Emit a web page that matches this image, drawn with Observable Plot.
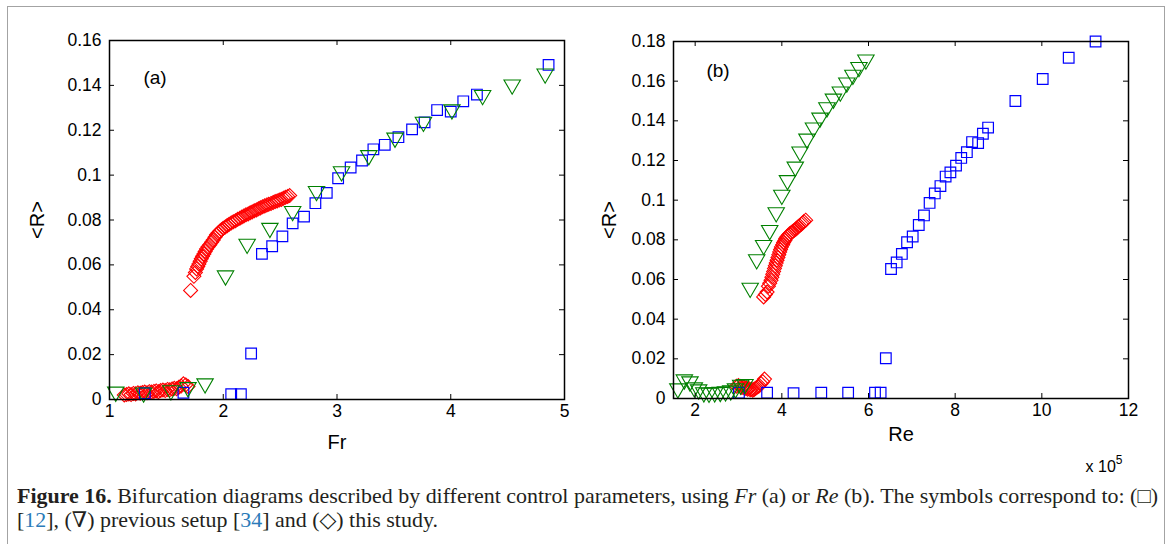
<!DOCTYPE html>
<html>
<head>
<meta charset="utf-8">
<script src="https://cdn.jsdelivr.net/npm/d3@7"></script>
<script src="https://cdn.jsdelivr.net/npm/@observablehq/plot@0.6"></script>
<style>
  html, body { margin: 0; padding: 0; background: #fff; }
  body { width: 1171px; height: 544px; position: relative; overflow: hidden; }
  .lbl { position: absolute; font-family: "Liberation Sans", Arial, sans-serif; color: #000; white-space: nowrap; transform: translate(-50%, -50%); }
  #cap { position: absolute; left: 17px; top: 484px; font-family: "Liberation Serif", "DejaVu Serif", serif; font-size: 21.5px; line-height: 24px; color: #231f20; white-space: nowrap; transform-origin: 0 0; }
  #cap .ref { color: #2b7bb9; }
  #cap .ln { display: inline-block; }
</style>
</head>
<body>
<div style="position:absolute; left:7px; top:6px; width:1156px; height:600px; border:1.5px solid #a3a3a3;"></div>
<div id="pa" style="position:absolute; left:0; top:0;"></div>
<div id="pb" style="position:absolute; left:585px; top:0;"></div>

<div class="lbl" style="left:337px; top:442px; font-size:20px;">Fr</div>
<div class="lbl" style="left:37px; top:220px; font-size:20px; transform: translate(-50%, -50%) rotate(-90deg);">&lt;R&gt;</div>
<div class="lbl" style="left:155px; top:78px; font-size:19px;">(a)</div>

<div class="lbl" style="left:901px; top:434px; font-size:20px;">Re</div>
<div class="lbl" style="left:609px; top:220px; font-size:20px; transform: translate(-50%, -50%) rotate(-90deg);">&lt;R&gt;</div>
<div class="lbl" style="left:718px; top:71px; font-size:19px;">(b)</div>
<div class="lbl" style="left:1104px; top:467px; font-size:16px;">x 10<span style="font-size:12px; position:relative; top:-8px;">5</span></div>

<div id="cap">
  <div class="ln" id="ln1"><b>Figure 16.</b> Bifurcation diagrams described by different control parameters, using <i>Fr</i> (a) or <i>Re</i> (b). The symbols correspond to: (□)</div><br>
  <div class="ln">[<span class="ref">12</span>], (∇) previous setup [<span class="ref">34</span>] and (◇) this study.</div>
</div>

<script>
// ---------- Panel (a): <R> versus Fr ----------
const aSquareFr = [1.31, 1.65, 2.07, 2.155, 2.245, 2.34, 2.43, 2.52, 2.61, 2.71, 2.81, 2.91, 3.01, 3.12, 3.22, 3.32, 3.42, 3.54, 3.66, 3.77, 3.88, 4.00, 4.11, 4.23, 4.86];
const aSquareR  = [0.0028, 0.0030, 0.0024, 0.0024, 0.0205, 0.0649, 0.0683, 0.0727, 0.0785, 0.0815, 0.0875, 0.0921, 0.0986, 0.1034, 0.1065, 0.1115, 0.1135, 0.1169, 0.1204, 0.1235, 0.1290, 0.1283, 0.1329, 0.1359, 0.1491];

const aTriFr = [1.055, 1.30, 1.54, 1.69, 1.84, 2.02, 2.21, 2.41, 2.61, 2.82, 3.04, 3.28, 3.51, 3.76, 4.01, 4.28, 4.54, 4.83];
const aTriR  = [0.0034, 0.0030, 0.0040, 0.0054, 0.0071, 0.0552, 0.0693, 0.0764, 0.0839, 0.0928, 0.1016, 0.1088, 0.1166, 0.1237, 0.1292, 0.1356, 0.1403, 0.1452];

const aDiaFr = [1.13, 1.15, 1.17, 1.19, 1.21, 1.23, 1.25, 1.27, 1.29, 1.31, 1.33, 1.35, 1.37, 1.39, 1.41, 1.43, 1.45, 1.47, 1.49, 1.51, 1.53, 1.55, 1.57, 1.59, 1.61, 1.63, 1.65, 1.67, 1.69,
                1.713, 1.742, 1.755, 1.766, 1.776, 1.786, 1.797, 1.807, 1.818, 1.830, 1.841, 1.853, 1.867, 1.882, 1.897, 1.912, 1.927, 1.941, 1.955, 1.970, 1.985, 2.000, 2.018, 2.035, 2.052, 2.070, 2.089, 2.108, 2.127, 2.146, 2.164, 2.181, 2.200, 2.219, 2.237, 2.254, 2.273, 2.292, 2.310, 2.327, 2.346, 2.365, 2.383, 2.400, 2.420, 2.439, 2.457, 2.474, 2.493, 2.511, 2.529, 2.547, 2.566, 2.584];
const aDiaR  = [0.0020, 0.0022, 0.0025, 0.0022, 0.0027, 0.0025, 0.0030, 0.0028, 0.0031, 0.0033, 0.0030, 0.0035, 0.0033, 0.0036, 0.0038, 0.0035, 0.0040, 0.0042, 0.0040, 0.0045, 0.0043, 0.0047, 0.0050, 0.0048, 0.0055, 0.0060, 0.0070, 0.0065, 0.0058,
                0.0486, 0.0549, 0.0566, 0.0582, 0.0593, 0.0604, 0.0616, 0.0627, 0.0638, 0.0649, 0.0660, 0.0671, 0.0681, 0.0690, 0.0701, 0.0711, 0.0723, 0.0734, 0.0742, 0.0750, 0.0757, 0.0763, 0.0769, 0.0775, 0.0781, 0.0787, 0.0792, 0.0797, 0.0803, 0.0808, 0.0813, 0.0818, 0.0823, 0.0827, 0.0832, 0.0836, 0.0841, 0.0845, 0.0850, 0.0854, 0.0859, 0.0863, 0.0867, 0.0870, 0.0874, 0.0878, 0.0882, 0.0885, 0.0889, 0.0892, 0.0897, 0.0901, 0.0905, 0.0909];

const aXTicks = [1, 2, 3, 4, 5];
const aYTicks = [0, 0.02, 0.04, 0.06, 0.08, 0.1, 0.12, 0.14, 0.16];

// ---------- Panel (b): <R> versus Re (x 10^5) ----------
const bSquareRe = [3.01, 3.66, 4.27, 4.91, 5.53, 6.15, 6.28, 6.40, 6.52, 6.65, 6.77, 6.89, 7.02, 7.16, 7.28, 7.41, 7.53, 7.66, 7.78, 7.89, 8.02, 8.14, 8.27, 8.39, 8.53, 8.64, 8.76, 9.39, 10.02, 10.62, 11.24];
const bSquareR  = [0.0029, 0.0029, 0.0027, 0.0029, 0.0029, 0.0029, 0.0029, 0.0203, 0.0653, 0.0686, 0.0729, 0.0788, 0.0817, 0.0875, 0.0923, 0.0986, 0.1034, 0.1071, 0.1119, 0.1140, 0.1174, 0.1213, 0.1242, 0.1293, 0.1288, 0.1335, 0.1366, 0.1500, 0.1611, 0.1718, 0.1800];

const bTriRe = [1.60, 1.75, 1.88, 1.98, 2.08, 2.20, 2.32, 2.45, 2.58, 2.70, 2.82, 2.93, 3.05, 3.15,
                3.27, 3.42, 3.58, 3.72, 3.87, 4.00, 4.13, 4.31, 4.42, 4.58, 4.73, 4.88, 5.04, 5.19, 5.35, 5.50, 5.64, 5.78, 5.94];
const bTriR  = [0.0050, 0.0095, 0.0085, 0.0055, 0.0045, 0.0030, 0.0028, 0.0030, 0.0032, 0.0035, 0.0040, 0.0050, 0.0068, 0.0072,
                0.0557, 0.0701, 0.0773, 0.0848, 0.0938, 0.1026, 0.1100, 0.1168, 0.1244, 0.1309, 0.1365, 0.1415, 0.1467, 0.1511, 0.1547, 0.1592, 0.1631, 0.1670, 0.1708];

const bDiaRe = [2.95, 3.00, 3.05, 3.08, 3.12, 3.15, 3.18, 3.21, 3.24, 3.27, 3.30, 3.33, 3.36, 3.39, 3.42, 3.45, 3.48, 3.52, 3.56, 3.60,
                3.58, 3.62, 3.66, 3.69, 3.72, 3.75, 3.77, 3.79, 3.81, 3.83, 3.85, 3.87, 3.89, 3.91, 3.93, 3.95, 3.97, 3.99, 4.02, 4.04, 4.07, 4.09, 4.12, 4.15, 4.18, 4.22, 4.25, 4.29, 4.32, 4.35, 4.38, 4.41, 4.45, 4.48, 4.51, 4.55];
const bDiaR  = [0.0062, 0.0065, 0.0060, 0.0055, 0.0058, 0.0050, 0.0053, 0.0047, 0.0050, 0.0044, 0.0047, 0.0042, 0.0046, 0.0050, 0.0055, 0.0060, 0.0065, 0.0075, 0.0085, 0.0098,
                0.0512, 0.0525, 0.0537, 0.0566, 0.0581, 0.0596, 0.0611, 0.0626, 0.0640, 0.0655, 0.0669, 0.0683, 0.0697, 0.0711, 0.0725, 0.0739, 0.0751, 0.0764, 0.0775, 0.0786, 0.0797, 0.0807, 0.0815, 0.0823, 0.0830, 0.0837, 0.0842, 0.0848, 0.0854, 0.0860, 0.0866, 0.0872, 0.0879, 0.0885, 0.0892, 0.0899];

const bXTicks = [2, 4, 6, 8, 10, 12];
const bYTicks = [0, 0.02, 0.04, 0.06, 0.08, 0.1, 0.12, 0.14, 0.16, 0.18];

// ---------- helpers ----------
const rows = (xs, ys) => xs.map((x, i) => ({x, y: ys[i]}));
const fmt = d => String(+d.toFixed(2));
const triangleDown = {
  draw(context, size) {
    const y = Math.sqrt(size / (3 * Math.sqrt(3)));
    context.moveTo(0, 2 * y);
    context.lineTo(-Math.sqrt(3) * y, -y);
    context.lineTo(Math.sqrt(3) * y, -y);
    context.closePath();
  }
};

function panel({w, h, ml, mr, mt, mb, xDom, yDom, xTicks, yTicks, sq, tri, dia}) {
  const pw = w - ml - mr, ph = h - mt - mb, tl = 5;
  return Plot.plot({
    width: w, height: h,
    marginLeft: ml, marginRight: mr, marginTop: mt, marginBottom: mb,
    x: {domain: xDom}, y: {domain: yDom},
    style: {background: "none", fontFamily: "'Liberation Sans', Arial, sans-serif", fontSize: "17.5px", color: "#000", overflow: "visible"},
    marks: [
      Plot.dot(dia, {x: "x", y: "y", symbol: "diamond2", r: 6.3, stroke: "#ff0000", fill: "none", strokeWidth: 1.1}),
      Plot.dot(sq, {x: "x", y: "y", symbol: "square", r: 6.0, stroke: "#0000ff", fill: "none", strokeWidth: 1.2}),
      Plot.dot(tri, {x: "x", y: "y", symbol: triangleDown, r: 6.1, stroke: "#008000", fill: "none", strokeWidth: 1.1}),
      Plot.tickX(xTicks, {x: d => d, insetTop: ph - tl, stroke: "#000"}),
      Plot.tickX(xTicks, {x: d => d, insetBottom: ph - tl, stroke: "#000"}),
      Plot.tickY(yTicks, {y: d => d, insetRight: pw - tl, stroke: "#000"}),
      Plot.tickY(yTicks, {y: d => d, insetLeft: pw - tl, stroke: "#000"}),
      Plot.frame({stroke: "#000", strokeWidth: 1.5}),
      Plot.axisX({ticks: xTicks, tickSize: 0, tickPadding: 5, tickFormat: fmt, label: null}),
      Plot.axisY({ticks: yTicks, tickSize: 0, tickPadding: 8, tickFormat: fmt, label: null})
    ]
  });
}

document.getElementById("pa").append(panel({
  w: 585, h: 460, ml: 109, mr: 21, mt: 40, mb: 61,
  xDom: [1, 5], yDom: [0, 0.16], xTicks: aXTicks, yTicks: aYTicks,
  sq: rows(aSquareFr, aSquareR), tri: rows(aTriFr, aTriR), dia: rows(aDiaFr, aDiaR)
}));

document.getElementById("pb").append(panel({
  w: 586, h: 460, ml: 88, mr: 43, mt: 41, mb: 62,
  xDom: [1.5, 12], yDom: [0, 0.18], xTicks: bXTicks, yTicks: bYTicks,
  sq: rows(bSquareRe, bSquareR), tri: rows(bTriRe, bTriR), dia: rows(bDiaRe, bDiaR)
}));

// fit caption line 1 to its width in the reference
const ln1 = document.getElementById("ln1");
const k = 1141 / ln1.getBoundingClientRect().width;
document.getElementById("cap").style.transform = `scaleX(${k})`;
</script>
</body>
</html>
